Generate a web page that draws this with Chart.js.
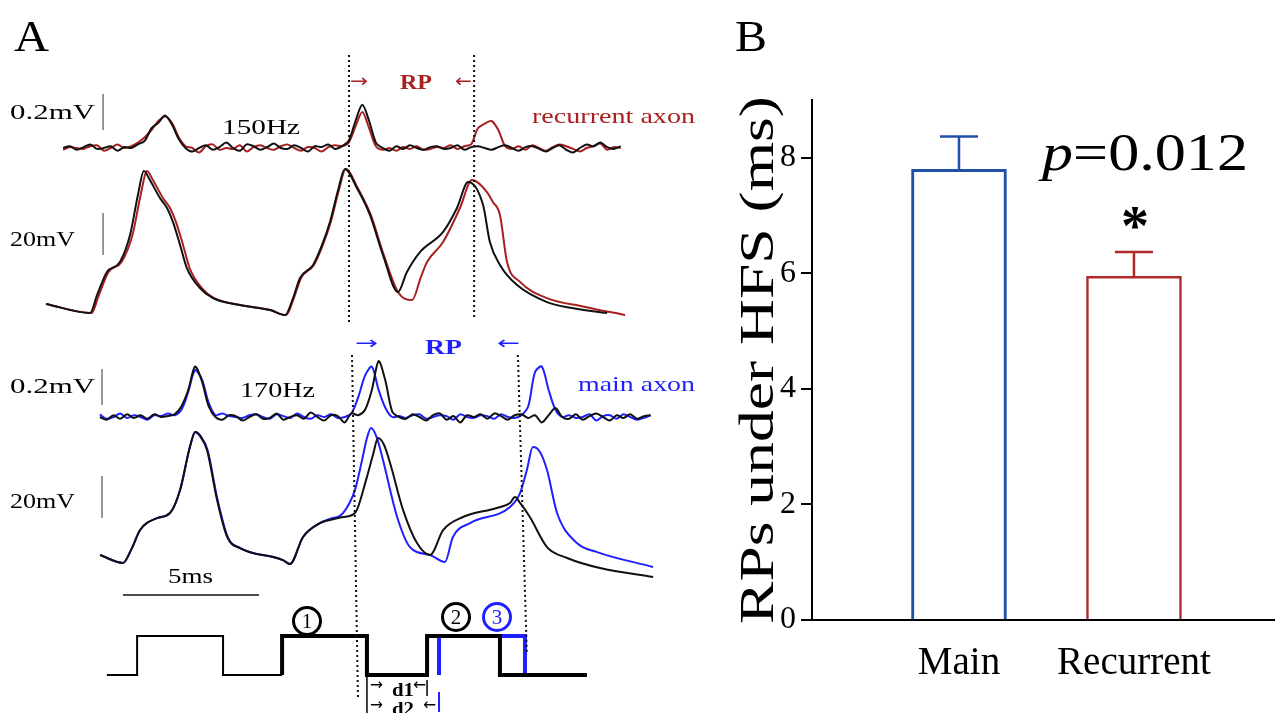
<!DOCTYPE html>
<html><head><meta charset="utf-8">
<script src="https://cdn.jsdelivr.net/npm/chart.js@4.4.1/dist/chart.umd.min.js"></script>
<style>
html,body{margin:0;padding:0;background:#fff;}
#wrap{position:relative;width:1275px;height:713px;overflow:hidden;background:#fff;}
canvas{position:absolute;}
.lbl{position:absolute;white-space:nowrap;line-height:1;font-family:"Liberation Serif","Times New Roman",serif;transform-origin:0 0;color:#000;}
.arr{font-family:"DejaVu Sans",sans-serif;font-weight:normal;}
.circ{position:absolute;box-sizing:border-box;border-radius:50%;border:3px solid #000;text-align:center;font-family:"Liberation Serif",serif;}
</style></head>
<body><div id="wrap">
<canvas id="cA" width="700" height="713" style="left:0;top:0;width:700px;height:713px"></canvas>
<canvas id="cB" width="555" height="713" style="left:720px;top:0;width:555px;height:713px"></canvas>
</div>
<script>
// ---------------- DATA: panel A (time in ms, membrane potential in mV relative to trough) ----------------
const topIntraBlack = [[0.22,4.3],[1.84,0],[2.1,8.6],[2.46,19.5],[2.94,24.3],[3.31,37.1],[3.6,56.2],[3.82,67.6],[4.04,63.3],[4.41,54.8],[4.67,50],[4.89,43.3],[5.15,32.4],[5.4,21.4],[5.88,11.9],[6.36,7.1],[7.35,3.8],[8.46,1.4],[9.01,-1],[9.3,7],[9.56,16.7],[10.04,22.9],[10.37,32.4],[10.66,43.3],[10.96,58.6],[11.21,68.6],[11.65,59.5],[12.13,46.7],[12.61,27.6],[13.16,10],[13.49,19.5],[13.97,29],[14.82,38.6],[15.33,50],[15.74,62.4],[16.29,51.4],[16.54,33.8],[16.91,22.9],[17.54,13.3],[18.64,5.2],[19.5,2.5],[20.85,0]];
const topIntraRed = [[0.22,4.3],[1.9,0],[2.15,8],[2.52,19.5],[3.0,24.3],[3.4,37.1],[3.7,56.2],[3.93,67.6],[4.15,63.3],[4.52,54.8],[4.78,50],[5.0,43.3],[5.26,32.4],[5.5,21.4],[5.95,11.9],[6.4,7.1],[7.35,3.8],[8.46,1.4],[9.05,-1],[9.33,7],[9.6,16.7],[10.07,22.9],[10.4,32.4],[10.69,43.3],[10.99,58.6],[11.24,68.6],[11.68,59.5],[12.16,46.7],[12.64,27.6],[13.16,10],[13.68,6.2],[14.0,17],[14.23,24.3],[14.82,33.8],[15.44,50],[15.88,63.3],[16.43,57.6],[16.65,52.9],[16.91,46.7],[17.17,24.3],[17.65,14.8],[18.64,7.1],[20.0,3],[21.51,-1]];
// extracellular (µV), sampled every 0.25 ms
const topExtraT0 = 0.85, botExtraT0 = 2.2, extraDt = 0.25;
const topExtraBlack = [0,10,-10,5,20,-5,0,10,-15,5,0, 20,40,110,140,180,130,50,0,
 -20,0,15,-10,5,30,0,-15,20,10,-10,5,25,0,-5,15,0,-20,10,5,20,-5,10,
 40,150,240,150,30,
 0,-15,10,-5,15,0,-10,5,10,-5,0,15,-10,5,10,0,-10,5,15,0,-15,5,10,-5,-20,0,15,-10,-25,0,20,10,30,5,-5,10];
const topExtraRed = [-10,5,0,-5,10,15,-15,0,20,0,10, 30,60,100,150,175,140,60,10,
 0,-25,10,20,-10,0,-5,15,-20,5,15,0,-10,10,20,0,-15,5,0,-20,5,15,10,
 30,120,200,110,10,
 -10,0,-15,5,-5,10,-10,-5,5,0,15,-5,10,20,
 110,135,150,100,10,
 -5,10,-10,15,0,-15,5,20,10,-5,-20,0,10,25,-10,5,0];
const botExtraBlack = [0,-15,10,-10,15,-5,10,-10,15,0,5,15, 60,150,280,200,60,0,
 -15,10,5,-20,0,15,-10,-5,20,-15,0,10,-10,25,0,-20,10,5,-30,20,
 10,40,150,310,200,30,0,
 -10,15,0,-20,10,20,-15,5,-30,10,0,15,-10,20,5,-15,10,15,-5,10,
 -30,10,50,0,
 -10,15,-15,5,20,0,-20,10,-5,15,-10,5,10];
const botExtraBlue = [15,-10,0,20,-5,10,0,-15,10,5,20,10, 40,140,260,210,80,10,
 20,5,0,-5,10,15,0,-10,15,5,-5,20,0,-10,10,0,15,-5,0,
 20,110,230,280,150,50,0,
 5,-5,10,15,-10,0,10,5,-15,15,0,-5,10,5,-10,15,0,-5,
 10,60,250,280,150,40,0,
 10,-5,0,15,-20,5,10,-10,15,0,-15,-5,10];
const botIntraBlack = [[2.21,3.8],[3.05,0],[3.38,7.1],[3.68,15.7],[4.3,21.4],[4.78,23.8],[5.15,34.8],[5.51,55.2],[5.7,62.4],[5.88,60.5],[6.14,53.8],[6.51,30],[6.88,12.4],[7.35,7.1],[8.93,1.4],[9.19,-0.5],[9.67,12.4],[10.29,19],[10.66,20.5],[11.14,21.9],[11.58,23.8],[12.02,41],[12.24,51.4],[12.43,59.5],[12.65,56.2],[12.87,47.6],[13.35,25.2],[13.86,9.5],[14.34,3.8],[14.82,15.7],[15.55,21.9],[16.8,26.2],[17.28,28.6],[17.46,31.4],[17.65,28.6],[18.01,21.9],[18.64,7.6],[19.38,2.4],[20.59,-2.4],[22.54,-6.7]];
const botIntraBlue = [[2.21,3.8],[3.05,0],[3.38,7.1],[3.68,15.7],[4.3,21.4],[4.78,23.8],[5.15,34.8],[5.51,55.2],[5.72,62.4],[5.9,60.5],[6.16,53.8],[6.53,30],[6.9,12.4],[7.37,7.1],[8.93,1.4],[9.19,-0.5],[9.67,12.4],[10.29,19],[10.66,21],[11.14,23.8],[11.58,34.8],[11.84,49],[12.02,59.5],[12.17,64.3],[12.39,59.5],[12.61,49],[13.13,21.9],[13.6,7.6],[14.34,3.8],[14.89,0.5],[15.18,12.4],[15.81,19],[17.28,26.7],[17.65,33.3],[17.9,44.3],[18.12,55.2],[18.38,52.9],[18.64,44.3],[19.01,23.8],[19.74,9.5],[20.48,5.2],[22.54,-1.9]];
// stimulus protocol: step times (ms) and levels (0 = off, 1 = on)
const stimThin  = [[2.46,0],[3.57,0],[3.57,1],[6.73,1],[6.73,0],[8.9,0]];
const stimThick = [[8.9,0],[8.9,1],[12.02,1],[12.02,0],[14.23,0],[14.23,1],[16.91,1],[16.91,0],[20.11,0]];
const stimBlue  = [[14.67,0],[14.67,1],[17.83,1],[17.83,0],[19.9,0]];
// refractory-period markers (ms)
const rpTopTimes = [11.36, 15.96];
const rpBotTimes = [[11.47, 11.69], [17.57, 17.90]];
const scaleBars = {extra: 0.2, intra: 20, time: 5};

// ---------------- DATA: panel B ----------------
const categories = ['Main', 'Recurrent'];
const meanRP = [7.8, 5.95];
const semRP = [0.57, 0.42];
const yTicks = [0, 2, 4, 6, 8];

// ---------------- layout (positions / gains) ----------------
const L = {topExtra:148, topIntra:313, botExtra:417, botIntra:563, stimLow:675, stimHigh:636,
  extraGain:180, intraGain:2.1};
const RED = '#a8201f', BLUE = '#1f1fff';

function pairs(arr, base, gain){ return arr.map(p => ({x:p[0], y: base - p[1]*gain})); }
function sampled(t0, vals, base, gain){ return vals.map((v,i) => ({x: t0 + i*extraDt, y: base - v/1000*gain})); }
function stim(arr){ return arr.map(p => ({x:p[0], y: L.stimLow - p[1]*(L.stimLow - L.stimHigh)})); }

const line = (data, color, w, extra) => Object.assign({data, borderColor:color, borderWidth:w, showLine:true, pointRadius:0, fill:false, tension:0.3}, extra||{});
const smooth = {cubicInterpolationMode:'monotone'};
const step = {tension:0, borderJoinStyle:'miter'};
const dotted = {tension:0, borderDash:[2,3]};

const dsA = [
  line([{x:rpTopTimes[0],y:55},{x:rpTopTimes[0],y:322}], '#111', 2, dotted),
  line([{x:rpTopTimes[1],y:55},{x:rpTopTimes[1],y:320}], '#111', 2, dotted),
  line([{x:rpBotTimes[0][0],y:355},{x:rpBotTimes[0][1],y:697}], '#111', 2, dotted),
  line([{x:rpBotTimes[1][0],y:355},{x:rpBotTimes[1][1],y:655}], '#111', 2, dotted),
  line(sampled(topExtraT0, topExtraBlack, L.topExtra, L.extraGain), '#111', 2),
  line(sampled(topExtraT0, topExtraRed, L.topExtra, L.extraGain), RED, 2),
  line(pairs(topIntraBlack, L.topIntra, L.intraGain), '#111', 2, smooth),
  line(pairs(topIntraRed, L.topIntra, L.intraGain), RED, 2, smooth),
  line(sampled(botExtraT0, botExtraBlack, L.botExtra, L.extraGain), '#111', 2),
  line(sampled(botExtraT0, botExtraBlue, L.botExtra, L.extraGain), BLUE, 2),
  line(pairs(botIntraBlack, L.botIntra, L.intraGain), '#111', 2, smooth),
  line(pairs(botIntraBlue, L.botIntra, L.intraGain), BLUE, 2, smooth),
  line(stim(stimThick), '#000', 4, step),
  line(stim(stimThin), '#000', 2, step),
  line(stim(stimBlue), BLUE, 4, step),
  line([{x:stimThick[3][0],y:L.stimLow},{x:stimThick[3][0],y:713}], '#000', 1.5, step),
  line([{x:stimThick[5][0],y:680},{x:stimThick[5][0],y:696}], '#000', 1.5, step),
  line([{x:stimBlue[0][0],y:692},{x:stimBlue[0][0],y:712}], BLUE, 2, step),
  line([{x:2.32,y:130},{x:2.32,y:130 - scaleBars.extra*L.extraGain}], '#777', 1.5, step),
  line([{x:2.32,y:255},{x:2.32,y:255 - scaleBars.intra*L.intraGain}], '#777', 1.5, step),
  line([{x:2.28,y:405},{x:2.28,y:405 - scaleBars.extra*L.extraGain}], '#777', 1.5, step),
  line([{x:2.28,y:518},{x:2.28,y:518 - scaleBars.intra*L.intraGain}], '#777', 1.5, step),
  line([{x:3.05,y:595},{x:3.05 + scaleBars.time,y:595}], '#111', 1.5, step)
];

new Chart(document.getElementById('cA'), {
  type:'scatter',
  data:{datasets:dsA},
  options:{responsive:false, animation:false, events:[],
    plugins:{legend:{display:false}, tooltip:{enabled:false}},
    layout:{padding:0},
    scales:{x:{type:'linear', display:false, min:-40/27.2, max:660/27.2},
            y:{type:'linear', display:false, min:0, max:713, reverse:true}}}
});

// ---------------- panel B ----------------
const barColors = ['#2150a8', '#b02a2a'];
const errPlugin = {id:'errbars', afterDatasetsDraw(chart){
  const ctx = chart.ctx, ys = chart.scales.y, meta = chart.getDatasetMeta(0);
  meta.data.forEach((bar, i) => {
    const top = ys.getPixelForValue(meanRP[i] + semRP[i]);
    ctx.save(); ctx.strokeStyle = barColors[i]; ctx.lineWidth = 2.5;
    ctx.beginPath(); ctx.moveTo(bar.x, bar.y); ctx.lineTo(bar.x, top);
    ctx.moveTo(bar.x - 19, top); ctx.lineTo(bar.x + 19, top); ctx.stroke(); ctx.restore();
  });
}};
const serif = 'Liberation Serif';
new Chart(document.getElementById('cB'), {
  type:'bar',
  data:{datasets:[{data: categories.map((c,i)=>({x:i+1, y:meanRP[i]})),
    backgroundColor:'#fff', borderColor:barColors, borderWidth:[3,2.5], barThickness:95}]},
  options:{responsive:false, animation:false, events:[],
    plugins:{legend:{display:false}, tooltip:{enabled:false}},
    layout:{padding:{top:100,left:0,right:0,bottom:0}},
    scales:{
      x:{type:'linear', min:0.16, max:2.806, offset:false,
         grid:{display:false, drawTicks:false}, border:{display:true, color:'#000', width:2},
         afterBuildTicks:s=>{s.ticks = categories.map((c,i)=>({value:i+1}));},
         afterFit:s=>{s.height = 93;},
         ticks:{font:{family:serif, size:39}, color:'#000', padding:20, maxRotation:0, autoSkip:false,
                callback:v=>categories[v-1] || ''}},
      y:{type:'linear', min:0, max:9,
         grid:{drawOnChartArea:false, drawTicks:true, tickLength:11, color:'#000', lineWidth:2},
         border:{display:true, color:'#000', width:2},
         afterBuildTicks:s=>{s.ticks = yTicks.map(v=>({value:v}));},
         afterFit:s=>{s.width = 92;},
         ticks:{font:{family:serif, size:32}, color:'#000', padding:5}}
    }},
  plugins:[errPlugin]
});

// ---------------- text ----------------
const wrap = document.getElementById('wrap');
const labels = [
  {t:'A', x:14, cy:37, fs:44, w:35},
  {t:'0.2mV', x:10, cy:113, fs:21, w:85},
  {t:'20mV', x:10, cy:240, fs:21, w:65},
  {t:'150Hz', x:222, cy:128, fs:21, w:78},
  {t:'recurrent axon', x:532, cy:118, fs:22, w:163, k:0.608, c:RED},
  {t:'\u2192', x:350, cy:83, fs:18, w:18, c:RED, a:1},
  {t:'RP', x:400, cy:83, fs:21, w:32, c:RED, b:1},
  {t:'\u2190', x:455, cy:83, fs:18, w:17, c:RED, a:1},
  {t:'0.2mV', x:10, cy:387, fs:21, w:85},
  {t:'20mV', x:10, cy:502, fs:21, w:65},
  {t:'170Hz', x:240, cy:391, fs:21, w:75},
  {t:'main axon', x:578, cy:386, fs:22, w:117, k:0.608, c:BLUE},
  {t:'\u2192', x:355, cy:345, fs:18, w:23, c:BLUE, a:1},
  {t:'RP', x:425, cy:347, fs:22, w:37, c:BLUE, b:1},
  {t:'\u2190', x:497, cy:345, fs:18, w:23, c:BLUE, a:1},
  {t:'5ms', x:168, cy:576, fs:22, w:45},
  {t:'\u2192', x:370, cy:687, fs:16, w:13, a:1},
  {t:'d1', x:392, cy:690, fs:19, w:22, b:1},
  {t:'\u2190', x:413, cy:687, fs:16, w:13, a:1},
  {t:'\u2192', x:370, cy:707, fs:16, w:13, a:1},
  {t:'d2', x:392, cy:709, fs:19, w:22, b:1},
  {t:'\u2190', x:423, cy:707, fs:16, w:13, a:1},
  {t:'B', x:735, cy:37, fs:44, w:32},
  {h:'<i>p</i>=0.012', x:1042, cy:153, fs:53, w:206},
  {t:'*', x:1121, cy:218, fs:58, w:28, k:0.37, b:1}
];
labels.forEach(o => {
  const d = document.createElement('div'); d.className = 'lbl' + (o.a ? ' arr' : '');
  if (o.h) d.innerHTML = o.h; else d.textContent = o.t;
  d.style.fontSize = o.fs + 'px'; d.style.left = o.x + 'px';
  if (o.c) d.style.color = o.c; if (o.b) d.style.fontWeight = 'bold';
  wrap.appendChild(d);
  const w0 = d.getBoundingClientRect().width;
  d.style.top = (o.cy - (o.k || (o.a ? 0.6 : 0.507)) * o.fs) + 'px';
  d.style.transform = 'scaleX(' + (o.w / w0) + ')';
});
(function(){
  const d = document.createElement('div'); d.className = 'lbl';
  d.textContent = 'RPs under HFS (ms)'; d.style.fontSize = '48px';
  wrap.appendChild(d);
  const w0 = d.getBoundingClientRect().width;
  d.style.left = '757px'; d.style.top = '360px'; d.style.transformOrigin = '50% 50%';
  d.style.transform = 'translate(-50%,-50%) rotate(-90deg) scaleX(' + (528 / w0) + ')';
})();
[[307,621,'1','#000'],[456,617,'2','#000'],[497,617,'3',BLUE]].forEach(c => {
  const d = document.createElement('div'); d.className = 'circ';
  d.style.left = (c[0]-15)+'px'; d.style.top = (c[1]-15)+'px';
  d.style.width = '30px'; d.style.height = '30px';
  d.style.borderColor = c[3]; d.style.color = c[3];
  d.style.fontSize = '21px'; d.style.lineHeight = '24px';
  d.textContent = c[2];
  wrap.appendChild(d);
});
</script>
</body></html>
